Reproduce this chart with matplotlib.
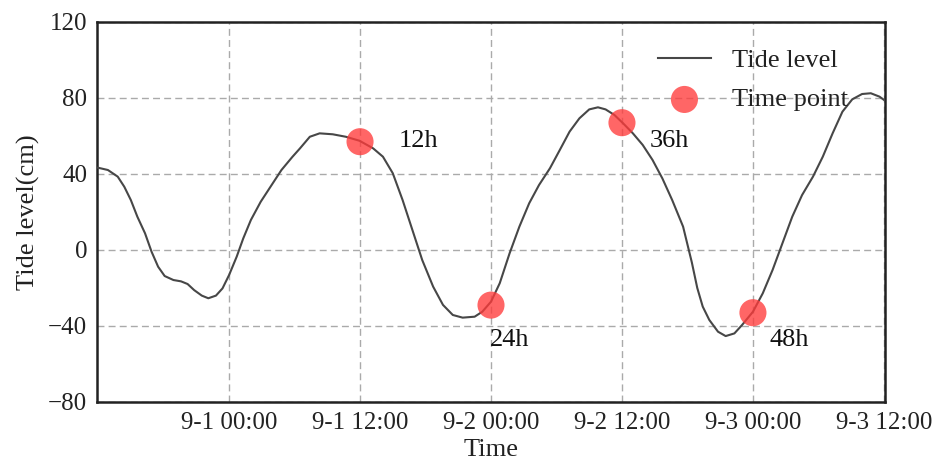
import matplotlib
matplotlib.use("Agg")
import matplotlib.pyplot as plt

# hours relative to 9-1 00:00
hours = [-12.0, -11.1, -10.2, -9.6, -9.0, -8.4, -7.7, -7.1, -6.5, -5.9, -5.1, -4.4, -3.8,
         -3.2, -2.5, -1.9, -1.2, -0.6, 0.0, 0.7, 1.3, 2.0, 2.9, 3.9, 4.8, 5.8, 6.5, 7.4,
         8.3, 9.5, 10.7, 11.95, 13.2, 14.1, 15.0, 15.9, 16.8, 17.7, 18.7, 19.6, 20.5, 21.4,
         22.5, 23.2, 24.0, 24.8, 25.7, 26.6, 27.5, 28.4, 29.4, 30.3, 31.2, 32.1, 33.0,
         33.8, 34.5, 35.3, 36.1, 37.0, 37.9, 38.8, 39.7, 40.6, 41.6, 42.4, 42.9, 43.4,
         44.0, 44.8, 45.5, 46.3, 47.0, 48.0, 48.9, 49.8, 50.7, 51.6, 52.5, 53.5, 54.4,
         55.3, 56.2, 57.1, 58.0, 58.8, 59.6, 60.1]
tide = [43.3, 42.1, 38.6, 33.3, 26.3, 17.5, 8.8, -0.9, -8.8, -13.7, -15.8, -16.5, -17.9,
        -21.1, -24.0, -25.4, -24.0, -20.2, -13.2, -3.5, 6.1, 15.8, 25.4, 34.2, 42.1, 49.0, 53.5, 59.6,
        61.4, 60.9, 59.6, 57.5, 53.5, 49.1, 40.4, 26.3, 10.5, -5.3, -19.3, -28.9, -34.2, -35.6,
        -35.1, -32.5, -27.2, -17.5, -1.8, 12.3, 24.6, 34.2, 43.0, 52.6, 62.3, 69.3, 74.0,
        75.1, 74.0, 71.1, 66.7, 61.4, 55.3, 47.4, 37.7, 26.3, 12.3, -6.5, -20.0, -29.8,
        -36.8, -43.0, -45.3, -43.9, -39.5, -32.5, -22.8, -10.5, 3.5, 17.5, 28.9, 38.6, 49.1,
        61.4, 72.8, 79.3, 82.1, 82.5, 80.7, 78.6]

point_hours = [12, 24, 36, 48]
point_values = [57, -29, 67, -33]
point_labels = ["12h", "24h", "36h", "48h"]
label_pos = [(15.5, 57.5), (23.9, -47.4), (38.5, 57.5), (49.5, -47.4)]

tick_hours = [0, 12, 24, 36, 48, 60]
tick_labels = ["9-1 00:00", "9-1 12:00", "9-2 00:00", "9-2 12:00", "9-3 00:00", "9-3 12:00"]
y_ticks = [-80, -40, 0, 40, 80, 120]

plt.rcParams['font.family'] = ['Liberation Serif', 'DejaVu Serif']

fig = plt.figure(figsize=(9.42, 4.63), dpi=100)
ax = fig.add_axes([97 / 942, 1 - 402 / 463, 788 / 942, 380 / 463])

ax.plot(hours, tide, color="#474747", lw=1.5, label="Tide level", zorder=3)
ax.scatter(point_hours, point_values, s=380, color="#ff3b3b", alpha=0.78, edgecolors="none",
           label="Time point", zorder=4)
for lab, (lx, ly) in zip(point_labels, label_pos):
    ax.text(lx, ly, lab, fontsize=19, va="center", ha="left", color="#111111")

ax.set_xlim(-12.1, 60.1)
ax.set_ylim(-80, 120)
ax.set_xticks(tick_hours)
ax.set_xticklabels(tick_labels)
ax.set_yticks(y_ticks)
ax.tick_params(length=0, labelsize=18, pad=7, colors="#222222")
ax.grid(True, ls=(0, (5, 3)), color="#aaaaaa", lw=1)
for s in ax.spines.values():
    s.set_linewidth(1.8)
    s.set_color("#222222")
ax.set_xlabel("Time", fontsize=19, labelpad=4, color="#222222")
ax.set_ylabel("Tide level(cm)", fontsize=19, labelpad=6, color="#222222")
leg = ax.legend(loc="upper left", bbox_to_anchor=(0.712, 0.93), frameon=False, fontsize=19,
                handlelength=2.0, handletextpad=0.8, labelspacing=0.6, borderpad=0,
                borderaxespad=0)
for t in leg.get_texts():
    t.set_color("#222222")

fig.savefig("out.png", dpi=100)
